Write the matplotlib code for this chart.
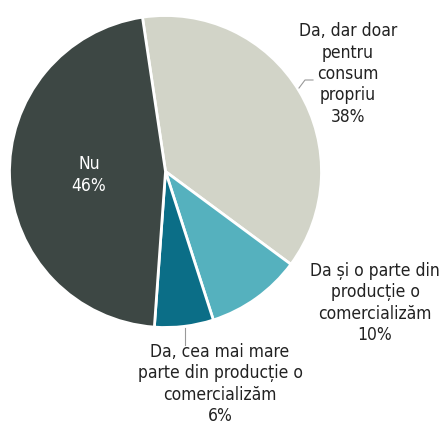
import matplotlib
matplotlib.use("Agg")
import matplotlib.pyplot as plt

categories = ["Da, dar doar\npentru\nconsum\npropriu", "Da și o parte din\nproducție o\ncomercializăm",
              "Da, cea mai mare\nparte din producție o\ncomercializăm", "Nu"]
values = [37.5, 9.9, 6.1, 46.5]
pct_labels = ["38%", "10%", "6%", "46%"]
colors = ["#d2d4c8", "#55b1be", "#0b6e87", "#3d4744"]

W, H = 444, 421
fig = plt.figure(figsize=(W / 100, H / 100), dpi=100)
cx, cy, r = 165.5, 171.5, 156
ax = fig.add_axes([(cx - r) / W, (H - cy - r) / H, 2 * r / W, 2 * r / H])
ax.pie(values, colors=colors, startangle=98.5, counterclock=False,
       wedgeprops=dict(edgecolor="white", linewidth=2))
ax.set_xlim(-1, 1)
ax.set_ylim(-1, 1)
ax.set_aspect("equal")
ax.axis("off")

fs = 12.5
fk = dict(fontsize=fs, ha="center", va="center", linespacing=1.25, fontstretch="condensed")

def ft(x, y, s, **kw):
    d = dict(fk); d.update(kw)
    fig.text(x / W, 1 - y / H, s, **d)

ft(348, 74, categories[0] + "\n" + pct_labels[0], color="#222222")
ft(375, 303, categories[1] + "\n" + pct_labels[1], color="#222222")
ft(220, 384, categories[2] + "\n" + pct_labels[2], color="#222222")
ft(89, 175, categories[3] + "\n" + pct_labels[3], color="white")

# leader lines
fig.add_artist(plt.Line2D([299 / W, 305 / W, 313 / W], [1 - 88 / H, 1 - 80 / H, 1 - 80 / H],
                          color="#999999", lw=0.8))
fig.add_artist(plt.Line2D([185 / W, 185 / W], [1 - 328 / H, 1 - 345 / H], color="#999999", lw=0.8))

fig.savefig("out.png", dpi=100)
